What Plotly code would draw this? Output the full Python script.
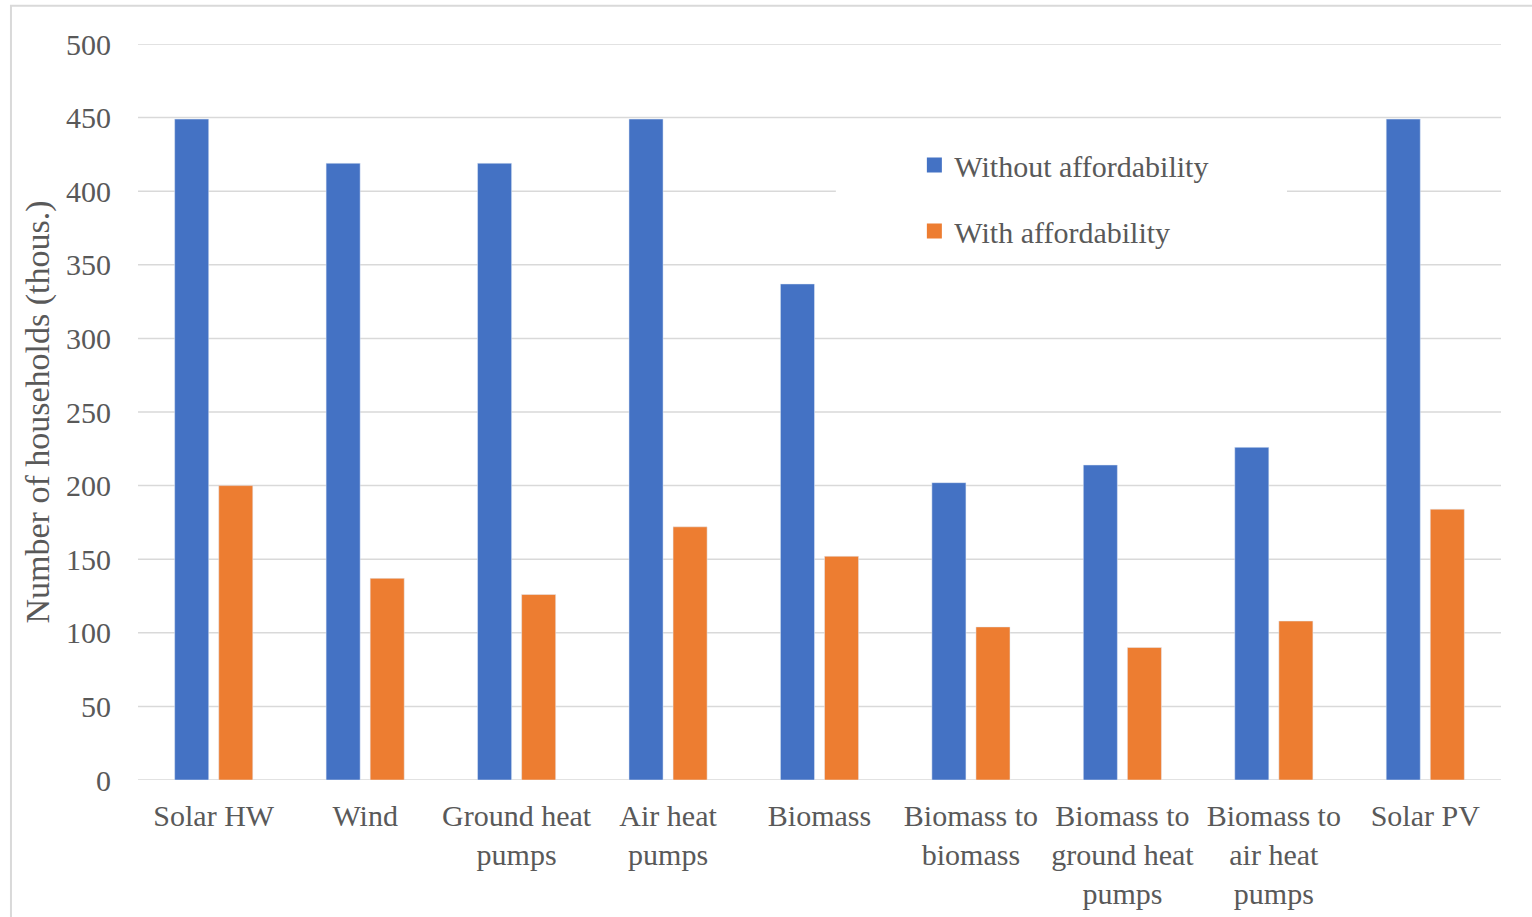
import plotly.graph_objects as go

categories = [
    "Solar HW", "Wind", "Ground heat<br>pumps", "Air heat<br>pumps", "Biomass",
    "Biomass to<br>biomass", "Biomass to<br>ground heat<br>pumps",
    "Biomass to<br>air heat<br>pumps", "Solar PV",
]
without_affordability = [449, 419, 419, 449, 337, 202, 214, 226, 449]
with_affordability = [200, 137, 126, 172, 152, 104, 90, 108, 184]
y_ticks = [0, 50, 100, 150, 200, 250, 300, 350, 400, 450, 500]

BLUE = "#4472C4"
ORANGE = "#ED7D31"
TEXT = "#595959"
GRID = "#D9D9D9"
FONT = "Liberation Serif"

fig = go.Figure()
fig.add_trace(go.Bar(x=categories, y=without_affordability, name="Without affordability",
                     marker_color=BLUE, showlegend=False))
fig.add_trace(go.Bar(x=categories, y=with_affordability, name="With affordability",
                     marker_color=ORANGE, showlegend=False))

# legend entries with larger square swatches
for name, color, group in [("Without affordability", BLUE, "a"),
                           ("With affordability", ORANGE, "b")]:
    fig.add_trace(go.Scatter(x=[None], y=[None], mode="markers", name=name,
                             legendgroup=group,
                             marker=dict(symbol="square", size=15, color=color)))

# horizontal gridlines, followed by the white panel behind the legend
shapes = [
    dict(type="line", xref="paper", yref="y", x0=0, x1=1, y0=v, y1=v,
         line=dict(color=GRID, width=1.5), layer="below")
    for v in y_ticks
]
shapes.append(dict(type="rect", xref="paper", yref="paper", x0=0.512, x1=0.843,
                   y0=0.713, y1=0.890, fillcolor="white", line_width=0, layer="below"))
# outer chart frame
shapes.append(dict(type="rect", xref="paper", yref="paper",
                   x0=-0.0932, x1=1.05, y0=-0.2, y1=1.052,
                   line=dict(color=GRID, width=2), fillcolor="rgba(0,0,0,0)",
                   layer="above"))

fig.update_layout(
    width=1532, height=917,
    margin=dict(l=138, r=31, t=44, b=137),
    paper_bgcolor="white", plot_bgcolor="white",
    font=dict(family=FONT, size=30, color=TEXT),
    barmode="group", bargap=0.418, bargroupgap=0.227,
    showlegend=True,
    legend=dict(x=0.5696, y=0.871, xanchor="left", yanchor="top",
                bgcolor="rgba(0,0,0,0)", tracegroupgap=24,
                font=dict(family=FONT, size=30, color=TEXT),
                itemwidth=30),
    xaxis=dict(showgrid=False, showline=False, ticks="", tickangle=0,
               ticklabelstandoff=15, automargin=False),
    yaxis=dict(range=[0, 500], tickvals=y_ticks, showgrid=False, zeroline=False,
               showline=False, ticks="", ticklabelstandoff=26, automargin=False,
               title=dict(text="Number of households (thous.)",
                          font=dict(family=FONT, size=34, color=TEXT), standoff=6)),
    shapes=shapes,
)

fig.write_html("out.html")
